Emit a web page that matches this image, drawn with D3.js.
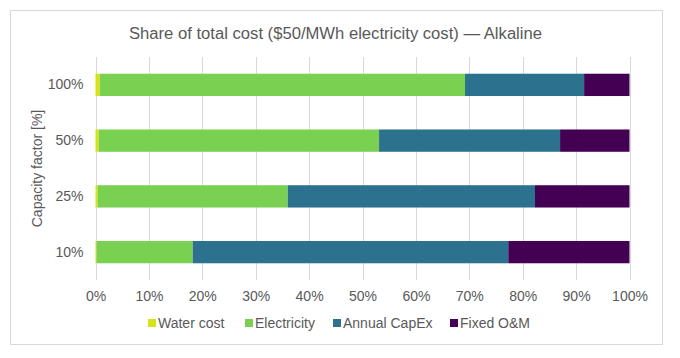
<!DOCTYPE html>
<html>
<head>
<meta charset="utf-8">
<title>Share of total cost</title>
<style>
  body { margin: 0; background: #fff; }
  svg text { font-family: "Liberation Sans", Arial, sans-serif; fill: #595959; }
</style>
</head>
<body>
<svg></svg>
<script src="https://d3js.org/d3.v7.min.js"></script>
<script>
  var categories = ['100%', '50%', '25%', '10%'];
  var seriesNames = ['Water cost', 'Electricity', 'Annual CapEx', 'Fixed O&M'];
  var waterCost = [0.8, 0.6, 0.4, 0.2];
  var electricity = [68.4, 52.5, 35.6, 18.0];
  var annualCapex = [22.3, 33.9, 46.3, 59.1];
  var fixedOM = [8.5, 13.0, 17.7, 22.7];
  var xTicks = [0, 10, 20, 30, 40, 50, 60, 70, 80, 90, 100];
  var colors = ['#d8e219', '#7ad151', '#2c718e', '#440154'];

  var width = 680, height = 358;
  var plot = { left: 95.5, right: 629.5, top: 57, bottom: 280 };

  var rows = categories.map((c, i) => ({
    cat: c,
    'Water cost': waterCost[i],
    'Electricity': electricity[i],
    'Annual CapEx': annualCapex[i],
    'Fixed O&M': fixedOM[i]
  }));
  var stacked = d3.stack().keys(seriesNames)(rows);

  var x = d3.scaleLinear().domain([0, 100]).range([plot.left, plot.right]);
  var y = d3.scaleBand().domain(categories).range([plot.top, plot.bottom]).paddingInner(0.6).paddingOuter(0.3);

  var svg = d3.select('svg').attr('width', width).attr('height', height);

  svg.append('rect')
    .attr('x', 10.5).attr('y', 10.5).attr('width', 652).attr('height', 334)
    .attr('fill', '#fff').attr('stroke', '#d9d9d9');

  var title = svg.append('text')
    .attr('x', 335.5).attr('y', 39)
    .attr('text-anchor', 'middle')
    .style('font-size', '16px')
    .text('Share of total cost ($50/MWh electricity cost) — Alkaline');
  // stretch to the measured width of the original title
  title.attr('textLength', 413).attr('lengthAdjust', 'spacingAndGlyphs');

  // gridlines
  svg.append('g').selectAll('line').data(xTicks).join('line')
    .attr('x1', d => Math.round(x(d)) + 0.5).attr('x2', d => Math.round(x(d)) + 0.5)
    .attr('y1', plot.top).attr('y2', plot.bottom)
    .attr('stroke', '#d9d9d9');

  // bars
  svg.append('g').selectAll('g').data(stacked).join('g')
    .attr('fill', (d, i) => colors[i])
    .selectAll('rect').data(d => d).join('rect')
    .attr('x', d => x(d[0]))
    .attr('width', d => x(d[1]) - x(d[0]))
    .attr('y', d => y(d.data.cat))
    .attr('height', y.bandwidth());

  // x axis
  var xAxis = svg.append('g')
    .attr('transform', `translate(0,${plot.bottom})`)
    .call(d3.axisBottom(x).tickValues(xTicks).tickFormat(d => d + '%').tickSize(0).tickPadding(11));
  xAxis.select('.domain').remove();
  xAxis.selectAll('text').style('font-size', '14px').attr('fill', '#595959');

  // y axis
  var yAxis = svg.append('g')
    .attr('transform', `translate(${plot.left},0)`)
    .call(d3.axisLeft(y).tickSize(0).tickPadding(12));
  yAxis.select('.domain').remove();
  yAxis.selectAll('text').style('font-size', '14px').attr('fill', '#595959');

  svg.append('text')
    .attr('transform', `translate(42,${(plot.top + plot.bottom) / 2}) rotate(-90)`)
    .attr('text-anchor', 'middle')
    .style('font-size', '14px')
    .text('Capacity factor [%]');

  // legend
  var legendX = [148, 245, 333, 450];
  var legend = svg.append('g').selectAll('g').data(seriesNames).join('g')
    .attr('transform', (d, i) => `translate(${legendX[i]},323)`);
  legend.append('rect')
    .attr('x', 0).attr('y', -4).attr('width', 8).attr('height', 8)
    .attr('fill', (d, i) => colors[i]);
  legend.append('text')
    .attr('x', 10).attr('y', 5)
    .style('font-size', '14px')
    .text(d => d);
</script>
</body>
</html>
